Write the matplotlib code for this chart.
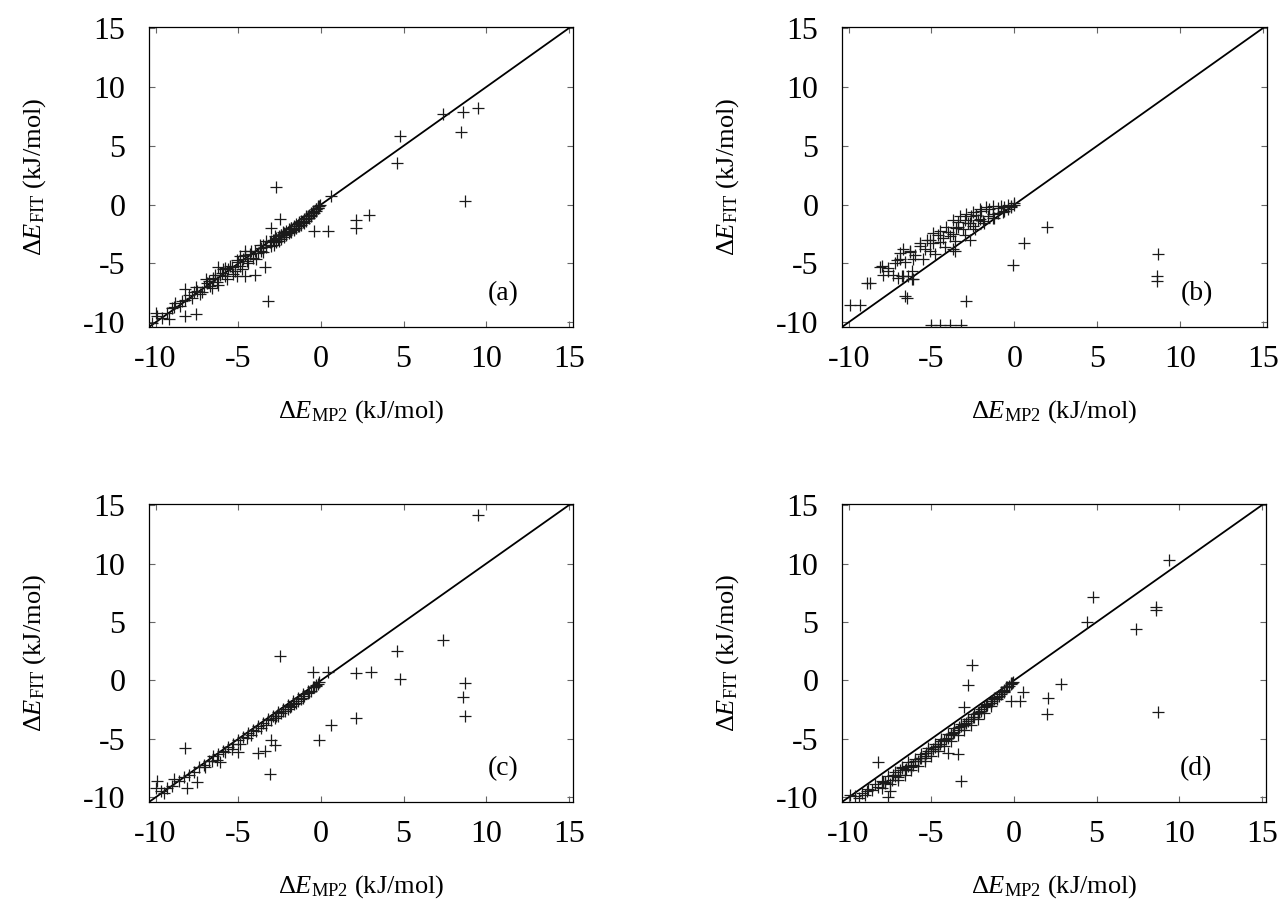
import matplotlib
matplotlib.use("Agg")
import matplotlib.pyplot as plt

plt.rcParams['font.family'] = ['Liberation Serif', 'DejaVu Serif']
plt.rcParams['mathtext.fontset'] = 'custom'
plt.rcParams['mathtext.rm'] = 'Liberation Serif'
plt.rcParams['mathtext.it'] = 'Liberation Serif:italic'

# (MP2, FIT) pairs per fitted model
mp2_a = [-10.2, -9.9, -9.6, -9.3, -9.0, -8.8, -8.5, -8.2, -8.0, -7.8, -7.5, -7.3, -7.1, -6.9,
         -6.7, -6.5, -6.3, -6.1, -6.0, -5.8, -5.6, -5.4, -5.2, -5.0, -4.9, -4.7, -4.5, -4.3,
         -4.1, -4.0, -3.8, -3.6, -3.5, -3.3, -3.1, -2.9, -2.8, -2.6, -2.4, -2.3, -2.1, -1.9,
         -1.8, -1.6, -1.4, -1.3, -1.1, -0.9, -0.8, -0.6, -0.5, -0.4, -0.3, -0.2, -0.1, -0.05,
         -10.0, -9.2, -8.2, -7.55, -8.9, -8.2, -7.55, -6.95, -6.2, -3.4, -4.0, -4.6, -5.1, -4.6,
         -2.7, -2.5, -3.0, -3.2, -0.4, 0.4, 0.6, 2.1, 2.1, 2.9, 4.6, 4.8, 7.4, 8.6, 8.5, 9.5, 8.7,
         -6.8, -6.6, -6.4, -6.2, -5.9, -5.7, -5.5, -5.3, -5.1, -4.8, -4.6, -4.4, -4.2, -3.9,
         -3.7, -3.5, -3.3, -3.6, -4.9, -5.8, -6.5, -7.2, -7.7, -8.4,
         -3.0, -2.85, -2.7, -2.55, -2.4, -2.25, -2.1, -1.95, -1.8, -1.65, -1.5, -1.35, -1.2,
         -1.05, -0.9, -0.75, -0.6, -0.45, -0.3, -0.15,
         -3.0, -2.85, -2.7, -2.55, -2.4, -2.25, -2.1, -1.95, -1.8, -1.65, -1.5, -1.35, -1.2,
         -1.05, -0.9, -0.75, -0.6, -0.45, -0.3, -0.15]
fit_a = [-10.1, -9.5, -9.6, -9.2, -8.8, -8.4, -8.6, -8.1, -7.7, -7.9, -7.3, -7.6, -7.0, -6.7,
         -6.9, -6.3, -6.6, -6.0, -5.8, -6.1, -5.5, -5.3, -5.6, -4.9, -5.2, -4.6, -4.8, -4.2,
         -4.5, -3.9, -4.1, -3.7, -3.4, -3.6, -3.2, -3.0, -2.7, -2.9, -2.6, -2.3, -2.5, -2.2,
         -2.0, -2.1, -1.8, -1.6, -1.5, -1.2, -1.0, -0.9, -0.6, -0.7, -0.4, -0.3, -0.1, 0.0,
         -9.2, -9.75, -9.5, -9.3, -8.7, -7.2, -7.0, -6.3, -5.3, -5.3, -6.0, -6.1, -6.1, -3.9,
         1.5, -1.2, -2.0, -8.2, -2.2, -2.2, 0.7, -1.3, -2.0, -0.9, 3.5, 5.8, 7.7, 7.9, 6.2, 8.2, 0.3,
         -6.5, -7.1, -6.0, -6.8, -5.5, -6.3, -5.2, -5.9, -4.7, -5.5, -4.3, -5.0, -3.9, -4.6,
         -3.4, -4.0, -3.1, -3.9, -4.4, -5.4, -6.2, -7.4, -7.4, -8.2,
         -3.5, -3.4, -3.2, -3.05, -2.9, -2.75, -2.6, -2.45, -2.3, -2.15, -2.0, -1.85, -1.7,
         -1.55, -1.35, -1.15, -0.95, -0.75, -0.5, -0.25,
         -3.1, -3.0, -2.85, -2.7, -2.55, -2.4, -2.25, -2.1, -1.95, -1.8, -1.65, -1.5, -1.35,
         -1.2, -1.0, -0.85, -0.7, -0.5, -0.35, -0.15]

mp2_b = [-9.9, -9.3, -8.9, -8.7, -6.5, -6.6, -5.0, -4.5, -3.9, -3.2, -2.9, -0.1, 0.6, 2.0,
         8.7, 8.6, 8.6, -8.0, -7.6, -7.2, -6.9, -6.6, -6.3, -6.0, -5.7, -5.4, -5.1, -4.9,
         -4.6, -4.3, -4.0, -3.7, -3.4, -3.1, -2.8, -2.5, -2.2, -1.9, -1.6, -1.3, -1.0, -0.7,
         -0.4, -0.2, 0.0, -7.0, -6.2, -5.5, -4.8, -4.2, -3.6, -3.0, -2.4, -1.8, -1.2, -0.6,
         -8.1, -7.6, -7.1, -7.9, -7.3, -6.8, -6.4, -6.2, -6.9, -6.7, -6.3, -6.1, -5.7, -5.3,
         -4.9, -4.5, -4.1, -3.7, -3.3, -2.9, -2.5, -2.1, -1.7, -1.3, -5.1, -4.5, -3.9, -3.5,
         -2.7, -2.1, -1.3, -3.6, -2.7, -6.1, -6.7, -3.7, -1.0, -0.8, -0.6, -0.4, -0.2, 0.0,
         -1.5, -2.0, -2.3, -2.6, -3.0, -3.4]
fit_b = [-8.5, -8.5, -6.7, -6.7, -7.9, -7.8, -10.2, -10.2, -10.2, -10.2, -8.2, -5.1, -3.3, -1.9,
         -4.2, -6.1, -6.5, -5.2, -5.6, -5.0, -4.6, -4.9, -4.0, -4.3, -3.5, -3.8, -3.0, -3.3,
         -2.6, -2.8, -2.3, -2.5, -1.9, -2.1, -1.6, -1.8, -1.3, -1.4, -1.0, -1.1, -0.7, -0.6,
         -0.4, -0.2, 0.0, -6.2, -5.6, -4.6, -4.2, -3.6, -3.1, -2.6, -2.1, -1.6, -1.1, -0.5,
         -5.3, -5.4, -4.7, -6.0, -6.0, -6.1, -6.1, -6.3, -4.1, -3.8, -3.9, -4.6, -3.3, -3.0,
         -2.4, -2.2, -1.9, -1.3, -1.0, -0.8, -0.6, -0.4, -0.2, -0.1, -3.9, -3.2, -2.7, -2.0,
         -1.6, -1.2, -0.8, -3.9, -3.0, -6.3, -6.1, -3.8, -0.3, -0.1, -0.2, 0.0, -0.1, 0.1,
         -0.4, -0.5, -0.9, -1.0, -1.3, -1.5]

mp2_c = [-10.0, -9.9, -9.5, -8.9, -8.1, -7.5, -6.1, -5.0, -3.8, -3.4, -3.0, -2.8, -3.1,
         -8.2, -2.5, -0.45, 0.4, 2.1, 3.0, 2.1, 0.6, -0.1, 9.5, 7.4, 4.6, 4.8, 8.7, 8.6, 8.7,
         -9.7, -9.3, -9.0, -8.6, -8.3, -8.0, -7.7, -7.4, -7.1, -6.8, -6.5, -6.2, -5.9, -5.6,
         -5.3, -5.0, -4.7, -4.4, -4.1, -3.8, -3.5, -3.2, -2.9, -2.6, -2.3, -2.0, -1.7, -1.4,
         -1.1, -0.8, -0.5, -0.3, -0.1,
         -7.0, -6.6, -6.3, -5.8, -5.4, -4.9, -4.5, -4.2, -3.9, -3.6, -3.3,
         -3.0, -2.8, -2.6, -2.4, -2.2, -2.0, -1.8, -1.6, -1.4, -1.2, -1.0, -0.8, -0.6,
         -0.4, -0.2, -2.7, -2.3, -1.9, -1.5, -1.1, -0.7, -0.3]
fit_c = [-9.2, -8.6, -9.6, -8.4, -9.2, -8.7, -7.0, -6.1, -6.2, -6.0, -5.1, -5.5, -8.0,
         -5.8, 2.1, 0.7, 0.7, 0.6, 0.7, -3.2, -3.8, -5.1, 14.2, 3.5, 2.5, 0.1, -0.2, -1.4, -3.0,
         -9.5, -9.2, -9.0, -8.6, -8.3, -8.1, -7.8, -7.4, -7.2, -6.9, -6.5, -6.3, -6.0, -5.7,
         -5.4, -5.1, -4.8, -4.5, -4.2, -3.9, -3.6, -3.3, -3.0, -2.7, -2.4, -2.1, -1.8, -1.5,
         -1.2, -0.9, -0.6, -0.4, -0.1,
         -7.4, -6.9, -6.8, -6.1, -5.9, -5.4, -4.9, -4.7, -4.3, -4.1, -3.8,
         -3.4, -3.2, -3.0, -2.8, -2.6, -2.4, -2.2, -2.0, -1.8, -1.6, -1.3, -1.1, -0.9,
         -0.6, -0.3, -3.0, -2.6, -2.3, -1.9, -1.5, -1.0, -0.5]

mp2_d = [9.4, 4.8, 4.4, 7.4, 8.6, 8.6, 8.7, 2.85, 2.05, 2.0, 0.55, 0.35, -0.15, -2.55,
         -2.75, -3.0, -3.2, -3.4, -4.0, -8.2, -7.5, -8.9, -9.9, -7.9, -7.6,
         -9.6, -9.2, -8.8, -8.4, -8.0, -7.6, -7.2, -6.8, -6.4, -6.0, -5.6, -5.2, -4.8, -4.4,
         -4.0, -3.6, -3.2, -2.8, -2.4, -2.0, -1.6, -1.2, -0.8, -0.5, -0.2, -7.0, -6.2, -5.4,
         -4.6, -3.8, -3.0, -2.2, -1.4, -0.6,
         -9.4, -9.0, -8.6, -8.2, -7.8, -7.4, -7.0, -6.6, -6.2, -5.8, -5.4, -5.0, -4.6,
         -4.2, -3.8, -3.4, -3.0, -2.6, -2.2, -1.8, -1.4, -1.0, -0.7, -0.4, -0.1,
         -7.8, -7.3, -6.9, -6.5, -6.1, -5.7, -5.3, -4.9, -4.5, -4.1, -3.7, -3.3, -2.9,
         -2.5, -2.1, -1.7, -1.3, -0.9, -0.6, -0.3, -0.15, -0.05,
         -8.0, -7.5, -7.0, -6.6, -6.2, -5.8, -5.4, -5.0, -4.6, -4.2, -3.8, -3.4, -3.0,
         -2.6, -2.2, -1.8, -1.4, -1.0, -0.6,
         -7.2, -6.8, -6.4, -6.0, -5.6, -5.2, -4.8, -4.4, -4.0, -3.6, -3.2, -2.8, -2.4,
         -2.0, -1.6, -1.2, -0.8]
fit_d = [10.3, 7.1, 5.0, 4.4, 6.3, 6.0, -2.7, -0.3, -1.5, -2.85, -1.0, -1.8, -1.8, 1.3,
         -0.4, -2.3, -8.6, -6.3, -6.2, -7.0, -9.5, -9.5, -9.8, -8.7, -10.0,
         -9.9, -9.6, -9.3, -8.9, -8.6, -8.2, -7.8, -7.4, -7.0, -6.7, -6.3, -5.8, -5.4, -5.0,
         -4.6, -4.1, -3.7, -3.3, -2.9, -2.4, -2.0, -1.5, -1.0, -0.6, -0.2, -8.3, -7.4, -6.6,
         -5.6, -4.6, -3.7, -2.8, -1.8, -0.8,
         -10.1, -9.8, -9.4, -9.1, -8.8, -8.5, -8.1, -7.7, -7.3, -6.9, -6.5, -6.0, -5.6,
         -5.1, -4.7, -4.2, -3.8, -3.3, -2.8, -2.3, -1.9, -1.4, -1.0, -0.6, -0.2,
         -8.7, -8.1, -7.7, -7.6, -7.2, -6.6, -6.2, -5.9, -5.4, -5.0, -4.5, -4.0, -3.6,
         -3.1, -2.7, -2.2, -1.8, -1.3, -0.9, -0.5, -0.3, -0.1,
         -9.2, -8.9, -8.5, -8.1, -7.7, -7.3, -6.9, -6.5, -6.0, -5.6, -5.2, -4.7, -4.2,
         -3.8, -3.3, -2.8, -2.2, -1.6, -1.0,
         -8.2, -7.5, -7.3, -6.9, -6.6, -6.0, -5.7, -5.2, -4.9, -4.4, -3.9, -3.5, -3.1,
         -2.6, -2.1, -1.6, -1.2]

panels = [
    (mp2_a, fit_a, '(a)', [149, 27, 424, 300]),
    (mp2_b, fit_b, '(b)', [842, 27, 425, 300]),
    (mp2_c, fit_c, '(c)', [149, 504, 424, 298]),
    (mp2_d, fit_d, '(d)', [842, 504, 424, 298]),
]

W, H = 1286, 908
fig = plt.figure(figsize=(W / 100, H / 100), dpi=100)

lo, hi = -10.4, 15.25
for x, y, tag, (l, t, w, h) in panels:
    ax = fig.add_axes([l / W, 1 - (t + h) / H, w / W, h / H])
    ax.plot([lo, hi], [lo, hi], color='black', lw=1.3, zorder=2)
    ax.plot(x, y, ls='none', marker='+', ms=8, mew=0.9, color='0.1', zorder=3)
    ax.set_xlim(lo, hi)
    ax.set_ylim(lo, 15.1)
    ax.set_xticks([-10, -5, 0, 5, 10, 15])
    ax.set_yticks([-10, -5, 0, 5, 10, 15])
    ax.set_xticklabels(['-10', '-5', '0', '5', '10', '15'])
    ax.set_yticklabels(['-10', '-5', '0', '5', '10', '15'])
    ax.tick_params(direction='in', length=4.5, width=0.8, color='0.4',
                   top=True, right=True, labelsize=23)
    ax.tick_params(axis='x', pad=13)
    ax.tick_params(axis='y', pad=17)
    for s in ax.spines.values():
        s.set_linewidth(0.9)
    ax.text(0.5, -0.283, r'$\Delta E_{\mathrm{MP2}}$ (kJ/mol)', transform=ax.transAxes,
            ha='center', va='center', fontsize=19)
    ax.text(-0.269, 0.5, r'$\Delta E_{\mathrm{FIT}}$ (kJ/mol)', transform=ax.transAxes,
            ha='center', va='center', rotation=90, fontsize=19)
    ax.text(0.835, 0.112, tag, transform=ax.transAxes, ha='center', va='center', fontsize=20)

fig.savefig('out.png', dpi=100)
